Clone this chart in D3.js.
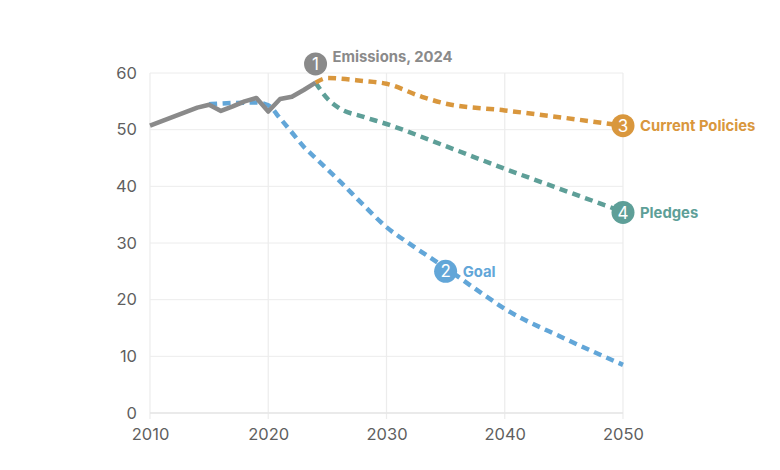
<!DOCTYPE html>
<html>
<head>
<meta charset="utf-8">
<script src="https://cdn.jsdelivr.net/npm/d3@7"></script>
<style>
  body { margin: 0; background: #fff; }
  svg text { font-family: Inter, "Noto Sans", sans-serif; }
</style>
</head>
<body>
<div id="chart"></div>
<script>
(function () {
    'use strict';

    // Values
    const emissions = [
        [2010, 50.7], [2011, 51.5], [2012, 52.3], [2013, 53.1], [2014, 53.9], [2015, 54.4],
        [2016, 53.3], [2017, 54.1], [2018, 55.0], [2019, 55.6], [2020, 53.2], [2021, 55.4],
        [2022, 55.8], [2023, 57.0], [2024, 58.3]
    ];
    const goal = [
        [2015, 54.5], [2017, 54.7], [2019, 54.8], [2020, 54.3], [2021, 52.0], [2022, 49.5],
        [2023, 47.0], [2024, 45.0], [2025, 43.0], [2026, 41.0], [2028, 36.8], [2030, 32.8],
        [2032, 29.8], [2035, 25.6], [2038, 21.2], [2040, 18.4], [2045, 13.2], [2050, 8.5]
    ];
    const currentPolicies = [
        [2024, 58.3], [2025, 59.1], [2028, 58.6], [2030, 58.1], [2033, 55.8], [2035, 54.6],
        [2040, 53.4], [2045, 52.1], [2050, 50.7]
    ];
    const pledges = [
        [2024, 58.3], [2025, 55.5], [2026, 53.8], [2028, 52.3], [2030, 51.0], [2035, 47.1],
        [2040, 43.1], [2045, 39.3], [2050, 35.5]
    ];
    const xTicks = [2010, 2020, 2030, 2040, 2050];
    const yTicks = [0, 10, 20, 30, 40, 50, 60];

    // Numbered callouts
    const callouts = [
        {n: '1', text: 'Emissions, 2024', year: 2024, value: 61.6, color: '#8a8a8a'},
        {n: '2', text: 'Goal', year: 2035, value: 25.0, color: '#62a6d8'},
        {n: '3', text: 'Current Policies', year: 2050, value: 50.7, color: '#d9973d'},
        {n: '4', text: 'Pledges', year: 2050, value: 35.4, color: '#5e9f98'}
    ];

    const W = 780, H = 470;
    const margin = {top: 73, right: 157, bottom: 57, left: 150};
    const cW = W - margin.left - margin.right;
    const cH = H - margin.top - margin.bottom;

    const svg = d3.select('#chart').append('svg').attr('width', W).attr('height', H);
    const g = svg.append('g').attr('transform', `translate(${margin.left},${margin.top})`);

    const x = d3.scaleLinear().domain([2010, 2050]).range([0, cW]);
    const y = d3.scaleLinear().domain([0, 60]).range([cH, 0]);

    // Grid
    g.append('g').selectAll('line').data(yTicks).join('line')
        .attr('x1', 0).attr('x2', cW)
        .attr('y1', d => y(d)).attr('y2', d => y(d))
        .attr('stroke', '#ececec').attr('stroke-width', 1);
    g.append('g').selectAll('line').data(xTicks).join('line')
        .attr('x1', d => x(d)).attr('x2', d => x(d))
        .attr('y1', 0).attr('y2', cH + 6)
        .attr('stroke', '#ececec').attr('stroke-width', 1.2);
    g.append('line').attr('x1', 0).attr('x2', cW).attr('y1', cH).attr('y2', cH)
        .attr('stroke', '#e6e6e6').attr('stroke-width', 1.5);

    // Axes
    g.append('g').attr('transform', `translate(0,${cH})`)
        .call(d3.axisBottom(x).tickValues(xTicks).tickFormat(d3.format('d')).tickSize(0).tickPadding(15))
        .call(gg => {
            gg.select('.domain').remove();
            gg.selectAll('text').attr('font-size', '16.5px').attr('fill', '#5f5f5f');
        });
    g.append('g')
        .call(d3.axisLeft(y).tickValues(yTicks).tickSize(0).tickPadding(13))
        .call(gg => {
            gg.select('.domain').remove();
            gg.selectAll('text').attr('font-size', '16.5px').attr('fill', '#5f5f5f');
        });

    const line = d3.line().x(d => x(d[0])).y(d => y(d[1])).curve(d3.curveMonotoneX);
    const lineRaw = d3.line().x(d => x(d[0])).y(d => y(d[1]));

    const dashed = (data, color) => g.append('path').datum(data)
        .attr('d', line).attr('fill', 'none').attr('stroke', color)
        .attr('stroke-width', 4.5).attr('stroke-dasharray', '8 5.5');

    dashed(goal, '#62a6d8');
    dashed(pledges, '#5e9f98');
    dashed(currentPolicies, '#d9973d');

    g.append('path').datum(emissions)
        .attr('d', lineRaw).attr('fill', 'none').attr('stroke', '#8a8a8a')
        .attr('stroke-width', 4.5).attr('stroke-linejoin', 'round');

    // Callouts
    callouts.forEach(c => {
        const cx = x(c.year), cy = y(c.value);
        g.append('circle').attr('cx', cx).attr('cy', cy).attr('r', 11.5)
            .attr('fill', c.color);
        g.append('text').attr('x', cx).attr('y', cy).attr('dy', '0.36em')
            .attr('text-anchor', 'middle').attr('font-size', '17px')
            .attr('fill', '#fff').text(c.n);
        g.append('text')
            .attr('x', cx + 17).attr('y', c.n === '1' ? cy - 7 : cy)
            .attr('dy', '0.35em')
            .attr('font-size', '14.8px').attr('font-weight', 700)
            .attr('fill', c.color).text(c.text);
    });
})();
</script>
</body>
</html>
